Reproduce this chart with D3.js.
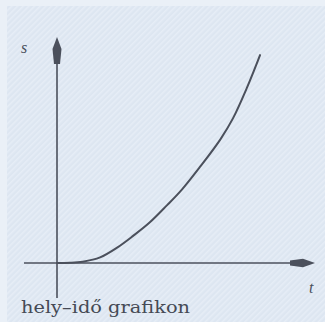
<!DOCTYPE html>
<html><head><meta charset="utf-8">
<script src="https://cdn.jsdelivr.net/npm/d3@7"></script>
<style>html,body{margin:0;padding:0;background:#e9eff7;}svg{display:block;}</style>
</head><body>
<script>
// Data (arbitrary units)
const tValues = [0, 0.5, 1.0, 1.67, 2.33, 2.95, 3.6, 4.26, 4.84, 5.54, 6.32, 6.82, 7.36, 7.87];
const sValues = [0, 0.01, 0.06, 0.25, 0.68, 1.2, 1.8, 2.55, 3.25, 4.25, 5.45, 6.4, 7.75, 9.2];
const axisLabels = { x: "t", y: "s" };
const caption = "hely–idő grafikon";

const W = 325, H = 322;
const ink = "#4b505c";
const svg = d3.select("body").append("svg").attr("width", W).attr("height", H);

const defs = svg.append("defs");
const pat = defs.append("pattern").attr("id", "hatch").attr("patternUnits", "userSpaceOnUse")
  .attr("width", 4).attr("height", 4).attr("patternTransform", "rotate(45)");
pat.append("rect").attr("width", 4).attr("height", 4).attr("fill", "#dde6f1");
pat.append("rect").attr("width", 1.6).attr("height", 4).attr("fill", "#e6edf6");

svg.append("rect").attr("x", 0).attr("y", 0).attr("width", W).attr("height", H).attr("fill", "#eaf0f7");
svg.append("rect").attr("x", 7).attr("y", 6).attr("width", W - 7).attr("height", H - 6).attr("fill", "url(#hatch)");

const x = d3.scaleLinear().domain([0, 10]).range([57, 315]);
const y = d3.scaleLinear().domain([0, 10]).range([263, 37]);

// axes
svg.append("line").attr("x1", x(-1.28)).attr("x2", x(9.3)).attr("y1", y(0)).attr("y2", y(0))
  .attr("stroke", ink).attr("stroke-width", 1.6);
svg.append("line").attr("x1", x(0)).attr("x2", x(0)).attr("y1", y(-1.55)).attr("y2", y(9))
  .attr("stroke", ink).attr("stroke-width", 1.6);

// arrowheads
const xt = x(10), yt = y(0);
svg.append("path").attr("d", `M${xt},${yt} L${xt-12},${yt-4.2} L${xt-25},${yt-2.5} L${xt-25},${yt+2.5} L${xt-12},${yt+4.2} Z`).attr("fill", ink);
const ax = x(0), ay = y(10);
svg.append("path").attr("d", `M${ax},${ay} L${ax+4.5},${ay+12} L${ax+3},${ay+27} L${ax-3},${ay+27} L${ax-4.5},${ay+12} Z`).attr("fill", ink);

// curve
const pts = tValues.map((t, i) => [t, sValues[i]]);
svg.append("path").datum(pts)
  .attr("d", d3.line().x(d => x(d[0])).y(d => y(d[1])).curve(d3.curveCatmullRom))
  .attr("fill", "none").attr("stroke", ink).attr("stroke-width", 2).attr("stroke-linecap", "round");

// labels
svg.append("text").attr("x", 21).attr("y", 53).text(axisLabels.y)
  .attr("font-family", "Liberation Serif, serif").attr("font-style", "italic").attr("font-size", 16).attr("fill", ink);
svg.append("text").attr("x", 309).attr("y", 293).text(axisLabels.x)
  .attr("font-family", "Liberation Serif, serif").attr("font-style", "italic").attr("font-size", 16).attr("fill", ink);
svg.append("text").attr("x", 21).attr("y", 313).text(caption)
  .attr("font-family", "DejaVu Serif, serif").attr("font-size", 17).attr("fill", "#454a55")
  .attr("textLength", 169).attr("lengthAdjust", "spacingAndGlyphs");
</script>
</body></html>
